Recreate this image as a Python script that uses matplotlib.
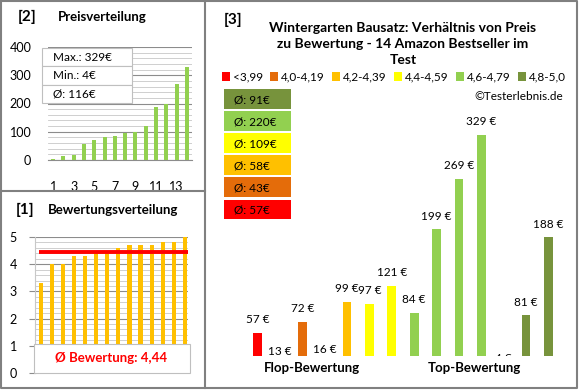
import matplotlib
matplotlib.use("Agg")
import matplotlib.pyplot as plt
import matplotlib.transforms as mtransforms
from matplotlib.patches import Rectangle, Patch
from matplotlib.lines import Line2D
import numpy as np

# values
prices_sorted = [4, 13, 16, 57, 72, 81, 84, 97, 99, 121, 188, 199, 269, 329]
ratings_sorted = [3.3, 4.0, 4.0, 4.3, 4.3, 4.4, 4.5, 4.6, 4.7, 4.7, 4.7, 4.8, 4.8, 5.0]
price_by_rating = [57, 13, 72, 16, 99, 97, 121, 84, 199, 269, 329, 4, 81, 188]
rating_class = [0, 1, 1, 2, 2, 3, 3, 4, 4, 4, 4, 5, 5, 5]
class_labels = ["<3,99", "4,0-4,19", "4,2-4,39", "4,4-4,59", "4,6-4,79", "4,8-5,0"]
class_colors = ["#FF0000", "#E46C0A", "#FFC000", "#FFFF00", "#92D050", "#77933C"]
class_avg = [57, 43, 58, 109, 220, 91]
price_stats = ["Max.: 329€", "Min.: 4€", "Ø: 116€"]
avg_rating = 4.44

plt.rcParams['font.family'] = ['Lato', 'DejaVu Sans']

W, H = 580, 390
fig = plt.figure(figsize=(W / 100, H / 100), dpi=100)
frame_col = '#808080'
grid_major = '#8c8c8c'
grid_minor = '#c8c8c8'


# pixel box (left, top, right, bottom) -> figure rect
def box(x0, y0, x1, y1):
    return [x0 / W, 1 - y1 / H, (x1 - x0) / W, (y1 - y0) / H]


def fline(xs, ys, **kw):
    fig.add_artist(Line2D([x / W for x in xs], [1 - y / H for y in ys],
                          transform=fig.transFigure, **kw))


def frect(x0, y0, x1, y1, **kw):
    fig.add_artist(Rectangle((x0 / W, 1 - y1 / H), (x1 - x0) / W, (y1 - y0) / H,
                             transform=fig.transFigure, **kw))


def ftext(x, y, s, **kw):
    fig.text(x / W, 1 - y / H, s, **kw)


# panel frames
fline([0.5, 577, 577, 0.5, 0.5], [1, 1, 388, 388, 1], color=frame_col, lw=1.5)
fline([205, 205], [1, 388], color=frame_col, lw=1.5)
fline([0.5, 205], [191, 191], color=frame_col, lw=1.5)

# [2] price distribution
ftext(27, 17, "[2]", fontsize=11, fontweight='bold', ha='center', va='center')
ftext(58, 17, "Preisverteilung", fontsize=9.5, fontweight='bold', va='center')
ax1 = fig.add_axes(box(48, 47, 192, 160))
ax1.bar(np.arange(1, 15), prices_sorted, width=0.4, color='#92D050', zorder=3)
ax1.set_xlim(0.5, 14.5)
ax1.set_ylim(0, 400)
ax1.set_yticks([0, 100, 200, 300, 400])
ax1.set_yticks(np.arange(0, 401, 20), minor=True)
ax1.set_xticks(np.arange(1, 15, 2))
ax1.grid(axis='y', which='major', color=grid_major, lw=0.8, zorder=0)
ax1.grid(axis='y', which='minor', color=grid_minor, lw=0.6, zorder=0)
for s in ['top', 'right', 'left']:
    ax1.spines[s].set_visible(False)
ax1.spines['bottom'].set_color(grid_major)
ax1.tick_params(axis='both', which='both', length=0, labelsize=9)
ax1.tick_params(axis='x', pad=15)
ax1.tick_params(axis='y', pad=12)

# stats box
for i, s in enumerate(price_stats):
    y0 = 48 + i * 18.3
    frect(42, y0, 132, y0 + 18.3, facecolor='white', edgecolor='#bfbfbf', lw=0.8, zorder=5)
    ftext(53, y0 + 9.5, s, fontsize=8.5, va='center', zorder=6)

# [1] rating distribution
ftext(25, 210, "[1]", fontsize=11, fontweight='bold', ha='center', va='center')
ftext(48, 210, "Bewertungsverteilung", fontsize=9.5, fontweight='bold', va='center')
ax2 = fig.add_axes(box(35, 237, 188, 373))
ax2.bar(np.arange(1, 15), ratings_sorted, width=0.38, color='#FFC000', zorder=3)
ax2.plot([0.85, 14.3], [avg_rating, avg_rating], color='#FF0000', lw=2.8,
         solid_capstyle='butt', zorder=4)
ax2.set_xlim(0.49, 14.27)
ax2.set_ylim(0, 5)
ax2.set_yticks(np.arange(0, 6))
ax2.set_yticks(np.arange(0, 5.01, 0.2), minor=True)
ax2.set_xticks([])
ax2.grid(axis='y', which='major', color=grid_major, lw=0.8, zorder=0)
ax2.grid(axis='y', which='minor', color=grid_minor, lw=0.6, zorder=0)
for s in ['top', 'right', 'bottom']:
    ax2.spines[s].set_visible(False)
ax2.spines['left'].set_color(grid_minor)
ax2.tick_params(axis='y', which='major', length=4, color=grid_major, labelsize=9, pad=9)
ax2.tick_params(axis='y', which='minor', length=0)
frect(34, 344, 190, 373, facecolor='white', edgecolor='#bfbfbf', lw=0.8, zorder=5)
ftext(111, 358, "Ø Bewertung: " + f"{avg_rating:.2f}".replace('.', ','),
      fontsize=9.5, fontweight='bold', color='#FF0000', ha='center', va='center', zorder=6)

# [3] price vs rating
ftext(233, 20, "[3]", fontsize=11, fontweight='bold', ha='center', va='center')
ftext(403, 44, "Wintergarten Bausatz: Verhältnis von Preis\nzu Bewertung - 14 Amazon Bestseller im\nTest",
      fontsize=10, fontweight='bold', ha='center', va='center', linespacing=1.45)
handles = [Patch(facecolor=c, edgecolor='none') for c in class_colors]
fig.legend(handles, class_labels, loc='center', bbox_to_anchor=(394 / W, 1 - 77 / H),
           ncol=6, frameon=False, fontsize=8.5, handlelength=0.7, handleheight=0.7,
           handletextpad=0.25, columnspacing=0.6, borderaxespad=0, borderpad=0)
ftext(563, 97, "©Testerlebnis.de", fontsize=8.5, ha='right', va='center')

# average boxes, top row = best class
for i, k in enumerate(range(5, -1, -1)):
    y0 = 89.5 + i * 22
    frect(224, y0, 291, y0 + 19.5, facecolor=class_colors[k], edgecolor='none')
    ftext(234, y0 + 10, f"Ø: {class_avg[k]}€", fontsize=8.5, va='center')

ax3 = fig.add_axes(box(240, 100, 566, 356))
xs = np.arange(len(price_by_rating))
ax3.bar(xs, price_by_rating, width=0.39, color=[class_colors[c] for c in rating_class])
ax3.set_xlim(-0.79, 13.79)
ax3.set_ylim(25, 377)
ax3.axis('off')
lift = ax3.transData + mtransforms.ScaledTranslation(0, 9.5 / 72, fig.dpi_scale_trans)
for x, v in zip(xs, price_by_rating):
    ax3.text(x, v, f"{v} €", transform=lift, ha='center', va='center',
             fontsize=8.5, clip_on=True)
ftext(312, 368, "Flop-Bewertung", fontsize=9.5, fontweight='bold', ha='center', va='center')
ftext(474, 368, "Top-Bewertung", fontsize=9.5, fontweight='bold', ha='center', va='center')

fig.savefig("out.png", dpi=100)
